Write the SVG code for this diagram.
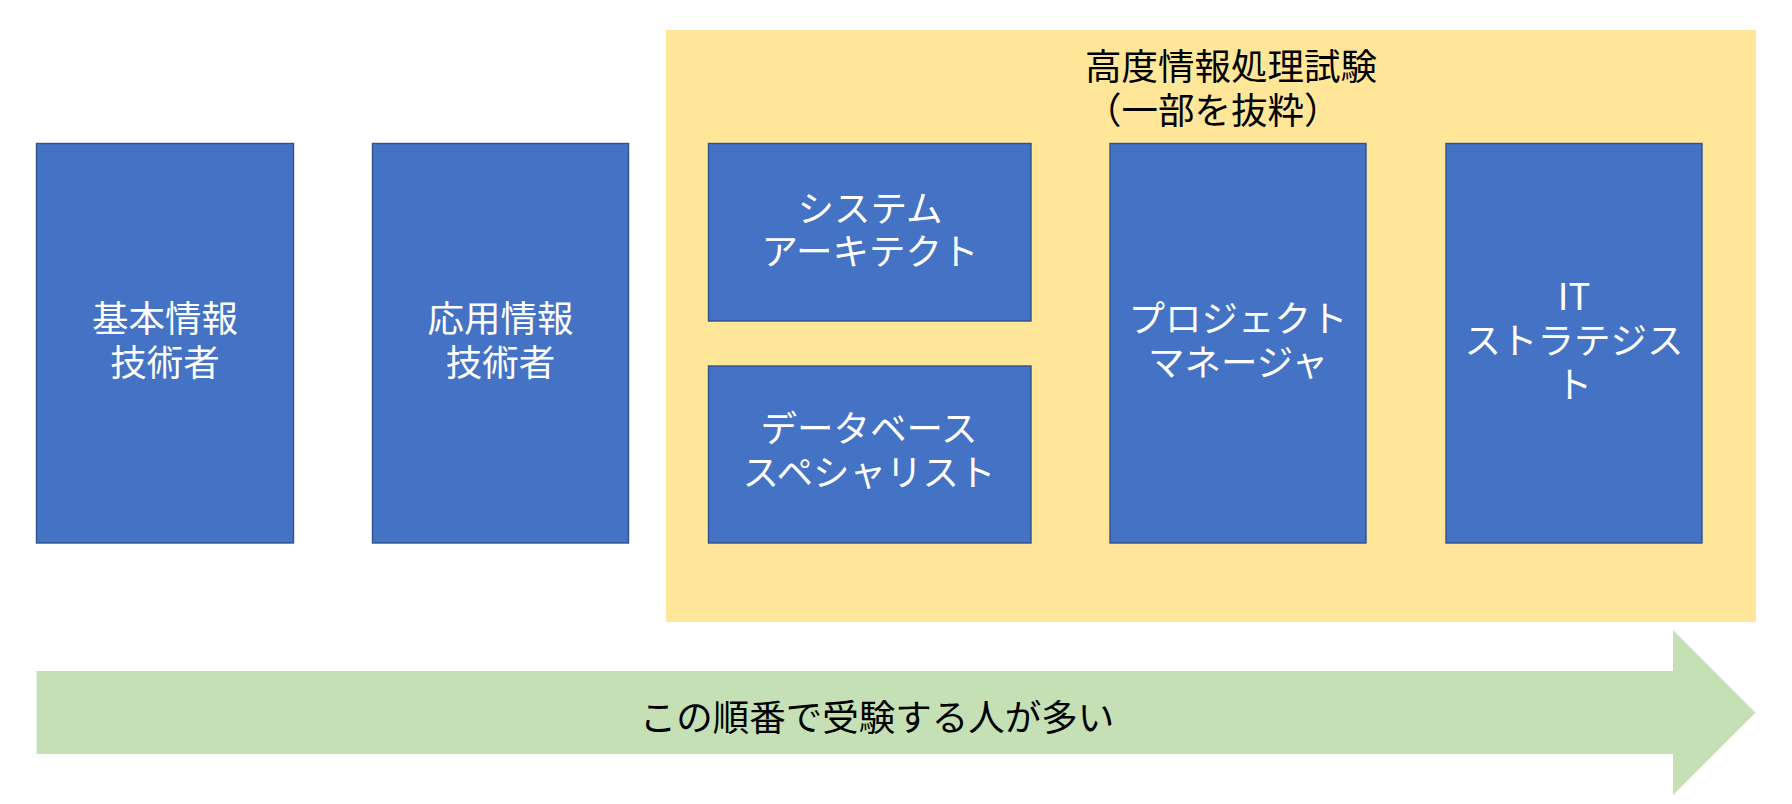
<svg xmlns="http://www.w3.org/2000/svg" width="1792" height="804" viewBox="0 0 1792 804">
<style>
.box{fill:#4472C4;stroke:#2F528F;stroke-width:1.4}
.t{font-family:"Noto Sans CJK JP","Noto Sans",sans-serif;font-size:36.5px;fill:#FFFFFF;text-anchor:middle}
.k{font-family:"Noto Sans CJK JP","Noto Sans",sans-serif;font-size:36.5px;fill:#000000}
</style>
<rect width="1792" height="804" fill="#FFFFFF"/>
<g id="group-advanced">
<rect x="666" y="30" width="1090" height="592" fill="#FFE699"/>
<text class="k" x="1085" y="80">高度情報処理試験</text>
<text class="k" x="1085" y="123.5">（一部を抜粋）</text>
</g>
<g id="connectors">
<polygon points="36.5,671 1673,671 1673,630 1755.5,712.7 1673,795 1673,754 36.5,754" fill="#C5E0B4"/>
<text class="k" x="877" y="731" text-anchor="middle">この順番で受験する人が多い</text>
</g>
<g id="node-fe">
<rect class="box" x="36.5" y="143.5" width="257" height="399.5"/>
<text class="t" x="165" y="332">基本情報</text>
<text class="t" x="165" y="375.5">技術者</text>
</g>
<g id="node-ap">
<rect class="box" x="372.5" y="143.5" width="256" height="399.5"/>
<text class="t" x="500.5" y="332">応用情報</text>
<text class="t" x="500.5" y="375.5">技術者</text>
</g>
<g id="node-sa">
<rect class="box" x="708.5" y="143.5" width="322.5" height="177.5"/>
<text class="t" x="870" y="221.5">システム</text>
<text class="t" x="870" y="265">アーキテクト</text>
</g>
<g id="node-db">
<rect class="box" x="708.5" y="366" width="322.5" height="177"/>
<text class="t" x="869" y="442">データベース</text>
<text class="t" x="869" y="486">スペシャリスト</text>
</g>
<g id="node-pm">
<rect class="box" x="1110" y="143.5" width="256" height="399.5"/>
<text class="t" x="1238" y="332">プロジェクト</text>
<text class="t" x="1238" y="375.5">マネージャ</text>
</g>
<g id="node-st">
<rect class="box" x="1446" y="143.5" width="256" height="399.5"/>
<text class="t" x="1574" y="310">IT</text>
<text class="t" x="1574" y="354">ストラテジス</text>
<text class="t" x="1574" y="397.5">ト</text>
</g>
</svg>
